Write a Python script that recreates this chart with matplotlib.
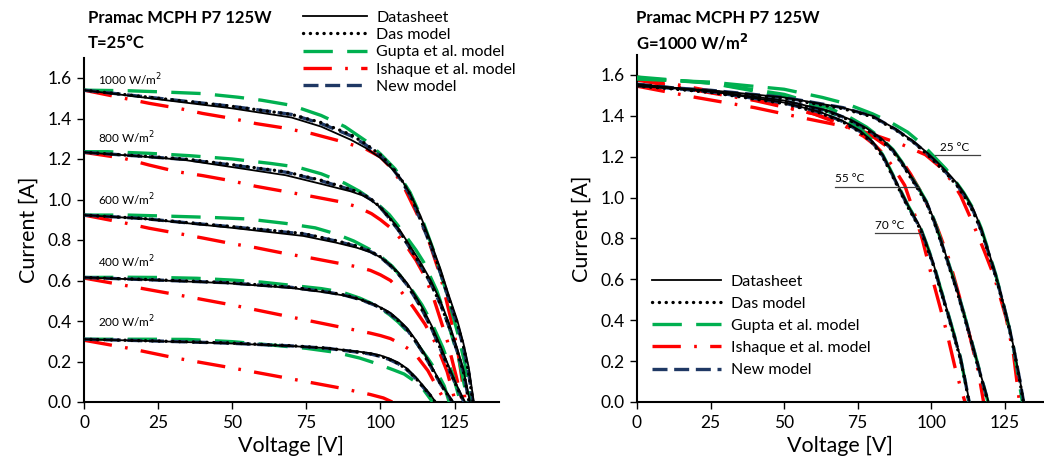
import matplotlib.pyplot as plt
import numpy as np

plt.rcParams['font.family'] = ['Lato', 'DejaVu Sans']

# ---------------- left panel: T = 25 C, different irradiance ----------------
irr_labels = ['1000 W/m$^2$', '800 W/m$^2$', '600 W/m$^2$', '400 W/m$^2$', '200 W/m$^2$']
irr_label_y = [1.59, 1.305, 1.0, 0.693, 0.397]

ds_1000 = [(0,1.54),(25,1.495),(50,1.45),(70,1.405),(80,1.36),(90,1.295),(95,1.255),(100,1.205),(104,1.15),(107,1.10),(110,1.03),(113.5,0.92),(117,0.79),(120.3,0.655),(123,0.53),(126,0.40),(128,0.29),(129.8,0.17),(131.5,0)]
das_1000 = [(0,1.54),(25,1.50),(50,1.46),(70,1.42),(80,1.38),(90,1.32),(95,1.275),(100,1.22),(104,1.16),(107,1.10),(110,1.025),(113.5,0.905),(117,0.775),(120.3,0.64),(123,0.515),(126,0.385),(128,0.275),(129.7,0.15),(131.2,0)]
new_1000 = [(0,1.54),(25,1.50),(50,1.46),(70,1.42),(80,1.375),(90,1.315),(95,1.27),(100,1.215),(104,1.155),(107,1.095),(110,1.02),(113.5,0.90),(117,0.77),(120.3,0.635),(123,0.51),(126,0.38),(128,0.27),(129.7,0.15),(131.2,0)]
gup_1000 = [(0,1.54),(15,1.537),(25,1.532),(40,1.523),(52,1.505),(60,1.49),(70,1.465),(80,1.415),(88,1.36),(95,1.29),(100,1.225),(105,1.15),(110,1.035),(114,0.905),(118,0.745),(122,0.555),(126,0.345),(128.5,0.19),(130.5,0)]
ish_1000 = [(0,1.54),(13.5,1.50),(22,1.475),(32,1.45),(40,1.425),(50,1.40),(58,1.375),(67.6,1.353),(77,1.325),(86,1.29),(95,1.25),(100,1.21),(104,1.15),(108,1.06),(112,0.94),(116,0.81),(120.3,0.62),(123.6,0.42),(126,0.26),(128.7,0)]

ds_800 = [(0,1.233),(20,1.212),(34,1.195),(50,1.16),(68,1.12),(80,1.077),(90,1.04),(94,1.02),(97,0.995),(100,0.96),(103.4,0.905),(106.5,0.85),(110,0.77),(113.5,0.69),(117,0.60),(120.5,0.49),(123.6,0.37),(126,0.26),(128,0.16),(130.2,0)]
das_800 = [(0,1.233),(20,1.214),(34,1.20),(50,1.172),(68,1.137),(80,1.095),(90,1.05),(94,1.027),(97,1.0),(100,0.962),(103.4,0.902),(106.5,0.842),(110,0.76),(113.5,0.677),(117,0.585),(120.5,0.475),(123.6,0.355),(126,0.245),(128,0.15),(129.9,0)]
new_800 = [(0,1.233),(20,1.213),(34,1.198),(50,1.17),(68,1.135),(80,1.092),(90,1.048),(94,1.025),(97,0.998),(100,0.96),(103.4,0.9),(106.5,0.84),(110,0.758),(113.5,0.675),(117,0.585),(120.5,0.475),(123.6,0.355),(126,0.245),(128,0.15),(129.9,0)]
gup_800 = [(0,1.236),(8,1.236),(22,1.228),(36,1.216),(50,1.20),(63,1.178),(72,1.16),(80,1.127),(88,1.08),(93,1.04),(97,1.0),(100,0.965),(103,0.925),(106,0.87),(109,0.81),(112,0.75),(114.6,0.69),(119,0.55),(123,0.38),(126.5,0.21),(129.5,0)]
ish_800 = [(0,1.233),(13.5,1.203),(22,1.17),(31.5,1.137),(40,1.118),(49.5,1.093),(58,1.065),(67.6,1.04),(77,1.015),(86,0.99),(92,0.965),(97,0.93),(100,0.90),(103,0.865),(106,0.82),(109,0.765),(112,0.70),(115,0.62),(118,0.51),(122.6,0.30),(125.5,0.13),(127.7,0)]

ds_600 = [(0,0.923),(20,0.905),(34,0.884),(50,0.86),(65,0.835),(74,0.82),(85,0.787),(92,0.762),(96.6,0.74),(100,0.715),(103.4,0.676),(106,0.64),(109,0.587),(112,0.52),(114.6,0.454),(117.5,0.37),(120.3,0.275),(123.5,0.16),(126,0.075),(128.5,0)]
das_600 = [(0,0.923),(20,0.906),(34,0.887),(50,0.866),(65,0.845),(74,0.832),(85,0.797),(92,0.77),(96.6,0.745),(100,0.717),(103.4,0.674),(106,0.635),(109,0.58),(112,0.51),(114.6,0.442),(117.5,0.357),(120.3,0.262),(123.5,0.15),(126,0.067),(128.2,0)]
new_600 = [(0,0.923),(20,0.906),(34,0.886),(50,0.865),(65,0.843),(74,0.83),(85,0.795),(92,0.768),(96.6,0.743),(100,0.715),(103.4,0.672),(106,0.633),(109,0.578),(112,0.508),(114.6,0.44),(117.5,0.355),(120.3,0.26),(123.5,0.15),(126,0.066),(128.2,0)]
gup_600 = [(0,0.923),(15,0.923),(28,0.918),(42,0.912),(55,0.904),(68,0.882),(78,0.86),(85,0.83),(91,0.795),(96.6,0.752),(100,0.72),(104,0.67),(108,0.6),(111,0.545),(114,0.48),(117,0.4),(121,0.27),(124.5,0.13),(127,0)]
ish_600 = [(0,0.923),(13.5,0.885),(22,0.858),(31.5,0.833),(40,0.81),(49.5,0.783),(58,0.762),(67.6,0.734),(77,0.71),(86,0.685),(92,0.668),(96.6,0.65),(100,0.628),(103.4,0.60),(107,0.545),(111,0.47),(115,0.385),(119,0.28),(122.5,0.15),(125.3,0)]

ds_400 = [(0,0.615),(25,0.601),(48,0.587),(70,0.563),(82,0.54),(88,0.525),(93,0.507),(98,0.482),(101,0.46),(103.4,0.44),(106,0.408),(109,0.365),(112,0.305),(114.6,0.245),(117.5,0.17),(120.3,0.095),(122.5,0.045),(124.5,0)]
das_400 = [(0,0.615),(25,0.603),(48,0.59),(70,0.567),(82,0.544),(88,0.528),(93,0.508),(98,0.48),(101,0.457),(103.4,0.435),(106,0.402),(109,0.358),(112,0.298),(114.6,0.238),(117.5,0.163),(120.3,0.089),(122.5,0.04),(124.3,0)]
new_400 = [(0,0.615),(25,0.602),(48,0.589),(70,0.566),(82,0.543),(88,0.527),(93,0.507),(98,0.479),(101,0.456),(103.4,0.434),(106,0.401),(109,0.357),(112,0.297),(114.6,0.237),(117.5,0.162),(120.3,0.088),(122.5,0.04),(124.3,0)]
gup_400 = [(0,0.615),(15,0.616),(25,0.615),(38,0.611),(50,0.602),(60,0.592),(70,0.576),(80,0.56),(87,0.543),(93,0.513),(97,0.487),(100,0.462),(103,0.432),(106,0.395),(109,0.35),(112,0.295),(116,0.215),(119,0.15),(121.5,0.08),(123.2,0)]
ish_400 = [(0,0.612),(13,0.578),(32,0.528),(50,0.479),(68,0.425),(86.5,0.37),(96.6,0.34),(100,0.328),(103.4,0.313),(106.5,0.29),(109.5,0.262),(112.5,0.222),(116,0.155),(119,0.075),(122,0)]

ds_200 = [(0,0.31),(25,0.30),(48,0.29),(70,0.276),(82,0.266),(93,0.248),(97,0.24),(100,0.23),(103,0.215),(106,0.195),(109,0.165),(112,0.122),(114.6,0.077),(117,0.033),(118.6,0)]
das_200 = [(0,0.31),(25,0.301),(48,0.292),(70,0.278),(82,0.266),(93,0.246),(97,0.237),(100,0.226),(103,0.211),(106,0.19),(109,0.16),(112,0.116),(114.6,0.071),(117,0.03),(118.4,0)]
new_200 = [(0,0.31),(25,0.301),(48,0.291),(70,0.277),(82,0.265),(93,0.245),(97,0.236),(100,0.225),(103,0.21),(106,0.189),(109,0.159),(112,0.115),(114.6,0.07),(117,0.03),(118.4,0)]
gup_200 = [(0,0.31),(20,0.31),(35,0.309),(50,0.298),(62,0.283),(75,0.265),(85,0.245),(93,0.217),(97,0.198),(101,0.177),(104.5,0.158),(108,0.138),(111,0.108),(114.6,0.06),(117.6,0)]
ish_200 = [(0,0.305),(14.5,0.267),(31,0.217),(50,0.168),(68.5,0.118),(86.5,0.069),(96.6,0.037),(101,0.02),(104,0)]

left_sets = [
    (ds_1000, das_1000, gup_1000, ish_1000, new_1000),
    (ds_800, das_800, gup_800, ish_800, new_800),
    (ds_600, das_600, gup_600, ish_600, new_600),
    (ds_400, das_400, gup_400, ish_400, new_400),
    (ds_200, das_200, gup_200, ish_200, new_200),
]

# ---------------- right panel: G = 1000 W/m2, different temperature ----------------
temp_labels = ['25 °C', '55 °C', '70 °C']
temp_line_x = [(101.4, 116.7), (67.3, 95.6), (80.9, 97.0)]
temp_line_y = [1.208, 1.053, 0.826]

ds_25 = [(0,1.545),(25,1.525),(50,1.49),(70,1.44),(80,1.40),(88,1.335),(94,1.275),(98.6,1.22),(103,1.16),(106,1.115),(108.8,1.07),(111.5,1.015),(114.3,0.945),(117,0.85),(119,0.76),(122,0.62),(124.5,0.485),(126.5,0.37),(128,0.27),(130,0.12),(131.5,0)]
das_25 = [(0,1.545),(25,1.52),(50,1.485),(70,1.435),(80,1.395),(88,1.33),(94,1.27),(98.6,1.212),(103,1.15),(106,1.104),(108.8,1.058),(111.5,1.0),(114.3,0.93),(117,0.837),(119,0.748),(122,0.61),(124.5,0.476),(126.5,0.36),(128,0.262),(130,0.113),(131.3,0)]
new_25 = [(0,1.548),(25,1.525),(50,1.49),(70,1.44),(80,1.398),(88,1.333),(94,1.272),(98.6,1.216),(103,1.155),(106,1.108),(108.8,1.062),(111.5,1.005),(114.3,0.935),(117,0.84),(119,0.752),(122,0.614),(124.5,0.48),(126.5,0.364),(128,0.265),(130,0.116),(131.4,0)]
gup_25 = [(0,1.58),(25,1.565),(50,1.53),(63,1.49),(71,1.46),(80,1.41),(86,1.37),(92,1.32),(97,1.26),(101,1.20),(105,1.14),(108,1.085),(111,1.025),(114.3,0.945),(117,0.85),(119,0.76),(122,0.62),(124.5,0.48),(126.5,0.365),(128,0.265),(131,0)]
ish_25 = [(0,1.545),(20,1.49),(40,1.44),(58,1.385),(70,1.35),(80,1.31),(90,1.26),(98,1.21),(103,1.15),(107,1.08),(110,1.01),(114,0.88),(118,0.74),(121.5,0.61),(125.5,0.41),(128,0.23),(130,0)]

ds_55 = [(0,1.55),(25,1.52),(50,1.475),(65,1.425),(72,1.385),(78,1.34),(83,1.29),(87,1.235),(90,1.175),(92.9,1.11),(96,1.04),(98.6,0.975),(101,0.89),(103,0.805),(106,0.675),(108.8,0.55),(111,0.44),(113.3,0.32),(116.5,0.15),(119.5,0)]
das_55 = [(0,1.548),(25,1.515),(50,1.47),(65,1.42),(72,1.38),(78,1.333),(83,1.282),(87,1.226),(90,1.166),(92.9,1.1),(96,1.03),(98.6,0.965),(101,0.88),(103,0.795),(106,0.665),(108.8,0.54),(111,0.43),(113.3,0.312),(116.5,0.143),(119.3,0)]
new_55 = [(0,1.55),(25,1.518),(50,1.473),(65,1.423),(72,1.383),(78,1.337),(83,1.286),(87,1.23),(90,1.17),(92.9,1.105),(96,1.035),(98.6,0.97),(101,0.885),(103,0.8),(106,0.67),(108.8,0.545),(111,0.435),(113.3,0.316),(116.5,0.146),(119.4,0)]
gup_55 = [(0,1.585),(25,1.56),(50,1.505),(65,1.44),(72,1.395),(78,1.345),(83,1.29),(87,1.235),(90,1.175),(92.9,1.11),(96,1.04),(98.6,0.975),(101,0.89),(103,0.805),(106,0.675),(108.8,0.55),(111,0.44),(113.3,0.32),(116.5,0.15),(119.3,0)]
ish_55 = [(0,1.575),(20,1.525),(40,1.475),(60,1.41),(72,1.355),(80,1.3),(86,1.24),(90,1.18),(93,1.115),(96,1.04),(99,0.955),(102,0.855),(106,0.70),(109.5,0.52),(113,0.33),(116,0.15),(117.8,0)]

ds_70 = [(0,1.555),(25,1.52),(50,1.465),(62,1.42),(70,1.375),(76,1.325),(80,1.275),(83.5,1.21),(86,1.14),(88.4,1.07),(92,0.965),(96.3,0.855),(98.5,0.77),(100.7,0.68),(103,0.565),(105.4,0.45),(107.5,0.345),(109.9,0.22),(111.5,0.11),(113,0)]
das_70 = [(0,1.553),(25,1.515),(50,1.46),(62,1.415),(70,1.37),(76,1.318),(80,1.267),(83.5,1.2),(86,1.13),(88.4,1.06),(92,0.955),(96.3,0.845),(98.5,0.76),(100.7,0.67),(103,0.555),(105.4,0.44),(107.5,0.335),(109.9,0.212),(111.5,0.104),(112.8,0)]
new_70 = [(0,1.555),(25,1.518),(50,1.463),(62,1.418),(70,1.372),(76,1.322),(80,1.271),(83.5,1.205),(86,1.135),(88.4,1.065),(92,0.96),(96.3,0.85),(98.5,0.765),(100.7,0.675),(103,0.56),(105.4,0.445),(107.5,0.34),(109.9,0.216),(111.5,0.107),(112.9,0)]
gup_70 = [(0,1.59),(25,1.56),(50,1.495),(62,1.44),(70,1.39),(76,1.335),(80,1.28),(83.5,1.21),(86,1.14),(88.4,1.07),(92,0.965),(96.3,0.855),(98.5,0.77),(100.7,0.68),(103,0.565),(105.4,0.45),(107.5,0.345),(109.9,0.22),(111.4,0.11),(112.8,0)]
ish_70 = [(0,1.59),(20,1.535),(40,1.48),(60,1.41),(70,1.355),(77,1.3),(81,1.255),(84,1.21),(87.5,1.14),(91,1.06),(94,0.935),(97,0.795),(100,0.625),(103,0.465),(105.4,0.335),(108,0.175),(110,0.07),(111.5,0)]

right_sets = [
    (ds_25, das_25, gup_25, ish_25, new_25),
    (ds_55, das_55, gup_55, ish_55, new_55),
    (ds_70, das_70, gup_70, ish_70, new_70),
]

model_names = ['Datasheet', 'Das model', 'Gupta et al. model', 'Ishaque et al. model', 'New model']

GREEN = '#00B050'
RED = '#FF0000'
NAVY = '#1F3864'

styles = [
    dict(color='black', lw=1.3, ls='-', zorder=6),
    dict(color='black', lw=2.4, dashes=(0.05, 2.0), dash_capstyle='round', zorder=5),
    dict(color=GREEN, lw=2.4, dashes=(8.8, 4.3), zorder=3),
    dict(color=RED, lw=2.4, dashes=(8.5, 4.0, 0.8, 4.0), zorder=2),
    dict(color=NAVY, lw=2.4, dashes=(4.5, 2.0), zorder=4),
]


def draw_set(ax, curves, with_label=False):
    lines = []
    for k, pts in enumerate(curves):
        v, i = zip(*pts)
        ln, = ax.plot(v, i, label=model_names[k] if with_label else None, **styles[k])
        lines.append(ln)
    return lines


fig = plt.figure(figsize=(10.44, 4.67), dpi=100)
W, H = 1044, 467

axL = fig.add_axes([84 / W, 1 - 402 / H, 415 / W, (402 - 57.75) / H])
axR = fig.add_axes([637 / W, 1 - 402 / H, 406 / W, (402 - 54.5) / H])

handles = None
for n, cs in enumerate(left_sets):
    h = draw_set(axL, cs, with_label=(n == 0))
    if n == 0:
        handles = h
for n, cs in enumerate(right_sets):
    draw_set(axR, cs)

for ax, xmax in ((axL, 140), (axR, 138)):
    ax.set_xlim(0, xmax)
    ax.set_ylim(0, 1.7)
    ax.set_xticks(np.arange(0, 126, 25))
    ax.set_yticks(np.arange(0, 1.61, 0.2))
    ax.set_yticklabels([f'{t:.1f}' for t in np.arange(0, 1.61, 0.2)])
    ax.spines['top'].set_visible(False)
    ax.spines['right'].set_visible(False)
    ax.spines['left'].set_linewidth(1.5)
    ax.spines['bottom'].set_linewidth(1.5)
    ax.tick_params(direction='out', length=5, width=1, labelsize=12.5, pad=4)
    ax.set_xlabel('Voltage [V]', fontsize=15.5, labelpad=4)
    ax.set_ylabel('Current [A]', fontsize=15.5, labelpad=6)

# irradiance labels
for lab, y in zip(irr_labels, irr_label_y):
    axL.text(4.8, y, lab, fontsize=8.5, va='center', ha='left')

# temperature labels with leader lines
for lab, (x0, x1), y in zip(temp_labels, temp_line_x, temp_line_y):
    axR.plot([x0, x1], [y, y], color='#404040', lw=0.9, zorder=7)
    tx = x0 + 1.5 if lab == '25 °C' else x0
    axR.text(tx, y + 0.012, lab, fontsize=8.5, va='bottom', ha='left')

# titles
fig.text(88 / W, 1 - 18 / H, 'Pramac MCPH P7 125W', fontsize=12, fontweight='bold', va='center')
fig.text(88 / W, 1 - 43 / H, 'T=25°C', fontsize=12, fontweight='bold', va='center')
fig.text(636 / W, 1 - 18 / H, 'Pramac MCPH P7 125W', fontsize=12, fontweight='bold', va='center')
fig.text(636 / W, 1 - 42 / H, 'G=1000 W/m$^\\mathbf{2}$', fontsize=12, fontweight='bold', va='center')

# legends
fig.legend(handles=handles, labels=model_names, loc='upper left',
           bbox_to_anchor=(297 / W, 1 - 4 / H), frameon=False, fontsize=11.5,
           handlelength=4.0, handletextpad=0.55, labelspacing=0.2, borderaxespad=0)
axR.legend(handles=handles, labels=model_names, loc='upper left',
           bbox_to_anchor=(646 / W, 1 - 268 / H), bbox_transform=fig.transFigure,
           frameon=False, fontsize=11.5, handlelength=4.3, handletextpad=0.6,
           labelspacing=0.5, borderaxespad=0)

fig.savefig('out.png', dpi=100)
